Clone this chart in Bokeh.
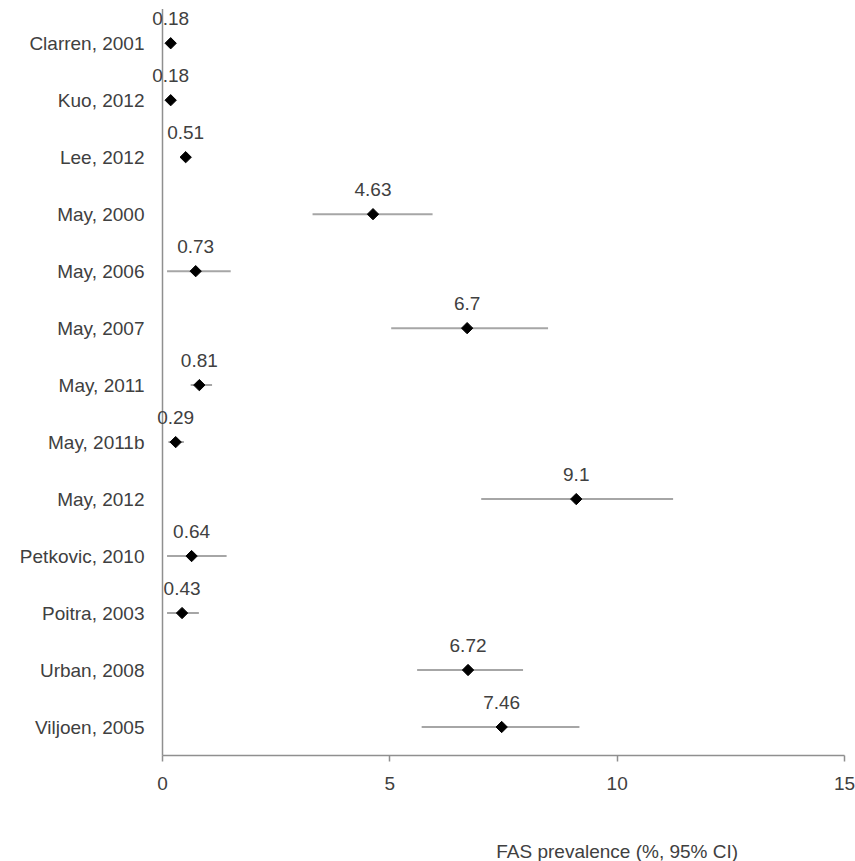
from bokeh.plotting import figure
from bokeh.models import ColumnDataSource, Label, Range1d, FixedTicker
from bokeh.embed import file_html
from bokeh.resources import INLINE
import math

# Studies, point estimates and 95% confidence limits (FAS prevalence, %)
studies = ["Clarren, 2001", "Kuo, 2012", "Lee, 2012", "May, 2000", "May, 2006",
           "May, 2007", "May, 2011", "May, 2011b", "May, 2012", "Petkovic, 2010",
           "Poitra, 2003", "Urban, 2008", "Viljoen, 2005"]
prevalence = [0.18, 0.18, 0.51, 4.63, 0.73, 6.7, 0.81, 0.29, 9.1, 0.64, 0.43, 6.72, 7.46]
ci_low = [0.15, 0.15, 0.47, 3.30, 0.10, 5.03, 0.62, 0.13, 7.01, 0.10, 0.10, 5.60, 5.70]
ci_high = [0.21, 0.21, 0.55, 5.94, 1.50, 8.48, 1.09, 0.47, 11.23, 1.41, 0.80, 7.93, 9.17]
x_ticks = [0, 5, 10, 15]
x_title = "FAS prevalence (%, 95% CI)"

FONT = "Liberation Sans"
TEXT = "#404040"
AXIS = "#8f8f8f"

W, H = 855, 861
BORDER_L = 148
PAD_L = 14        # px left of x=0 kept inside the frame for the value labels
PAD_R = 11        # px right of x=15 kept inside the frame for the last tick label
PAD_TOP = 0.25    # rows of head room above the first study
BOTTOM_PX = 106   # px below the value axis for tick labels and title
AXIS_TOP = 0.1    # the value axis line runs slightly above the first band
TITLE_X, TITLE_Y = 10, -1.68   # axis title position (data units)

n = len(studies)
# first study on top: one row per study, centred in its band
row = [n - 0.5 - i for i in range(n)]

x_lo, x_hi = x_ticks[0], x_ticks[-1]
frame_w = W - BORDER_L
px_per_unit = (frame_w - PAD_L - PAD_R) / (x_hi - x_lo)
x_min = x_lo - PAD_L / px_per_unit
x_max = x_hi + PAD_R / px_per_unit
y_max = n + PAD_TOP
y_min = -y_max * BOTTOM_PX / (H - BOTTOM_PX)

src = ColumnDataSource(dict(study=studies, row=row, est=prevalence,
                            lo=ci_low, hi=ci_high))

p = figure(
    width=W, height=H,
    x_range=Range1d(x_min, x_max), y_range=Range1d(y_min, y_max),
    output_backend="svg", toolbar_location=None,
    min_border_left=BORDER_L, min_border_right=0,
    min_border_top=0, min_border_bottom=0,
    background_fill_color="white", border_fill_color="white",
)
p.outline_line_color = None
p.xgrid.grid_line_color = None
p.ygrid.grid_line_color = None

# vertical axis line at x = 0
p.segment(x0=[x_lo], x1=[x_lo], y0=[0], y1=[n + AXIS_TOP],
          line_color=AXIS, line_width=1.5)

# confidence intervals
p.segment(x0="lo", x1="hi", y0="row", y1="row", source=src,
          line_color="#a6a6a6", line_width=2)
# point estimates as black diamonds
p.scatter(x="est", y="row", source=src, marker="square", angle=math.pi / 4,
          size=8, fill_color="black", line_color="black")

# value labels above each estimate
for v, r in zip(prevalence, row):
    p.add_layout(Label(x=v, y=r, text=f"{v:g}", y_offset=25,
                       text_align="center", text_baseline="middle",
                       text_font=FONT, text_font_size="19px", text_color=TEXT))

# y axis: study names only (its line is drawn at x = 0 above)
ya = p.yaxis[0]
ya.ticker = FixedTicker(ticks=row)
ya.major_label_overrides = {r: s for r, s in zip(row, studies)}
ya.axis_line_color = None
ya.major_tick_line_color = None
ya.minor_tick_line_color = None
ya.major_tick_out = 0
ya.major_tick_in = 0
ya.major_label_standoff = 4
ya.major_label_text_font = FONT
ya.major_label_text_font_size = "19px"
ya.major_label_text_color = TEXT

# x axis drawn at y = 0, from 0 to 15
xa = p.xaxis[0]
xa.fixed_location = 0
xa.bounds = (x_lo, x_hi)
xa.ticker = FixedTicker(ticks=x_ticks)
xa.axis_line_color = AXIS
xa.axis_line_width = 1.5
xa.major_tick_line_color = AXIS
xa.major_tick_line_width = 1.5
xa.major_tick_out = 6
xa.major_tick_in = 0
xa.minor_tick_line_color = None
xa.major_label_standoff = 15
xa.major_label_text_font = FONT
xa.major_label_text_font_size = "19px"
xa.major_label_text_color = TEXT

# x axis title, set towards the right below the tick labels
p.add_layout(Label(x=TITLE_X, y=TITLE_Y, text=x_title,
                   text_align="center", text_baseline="middle",
                   text_font=FONT, text_font_size="19px", text_color=TEXT))

open("out.html", "w").write(file_html(p, INLINE))
